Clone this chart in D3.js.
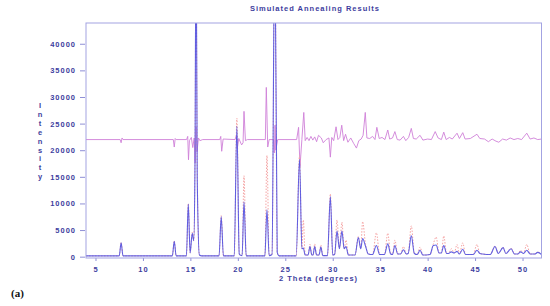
<!DOCTYPE html>
<meta charset="utf-8">
<head>
  <!-- Carga D3 -->
  <script src="https://cdn.jsdelivr.net/npm/d3@7/dist/d3.min.js"></script>
  <style>
    body { margin: 0; background: #fff; }

    /* CSS para los ejes */
    .axis text {
      font-family: "Liberation Sans", Arial, sans-serif;
      font-size: 7.5px;
      font-weight: bold;
      letter-spacing: 1px;
      fill: #3d3d9e;
    }
    .axis line { stroke: #8f8fd6; }
    .axis path { display: none; }

    .rotulo {
      font-family: "Liberation Sans", Arial, sans-serif;
      font-size: 7.5px;
      font-weight: bold;
      letter-spacing: 1px;
      fill: #3d3d9e;
    }
  </style>
</head>
<body>
<script type="text/javascript">

// Datos: pares [2 theta, cuentas]

// Perfil calculado (azul)
var calcPts = [
  [4,150],[7.5,150],[7.7,2600],[7.9,150],
  [13.1,150],[13.3,2900],[13.5,150],
  [14.58,150],[14.78,9900],[14.97,700],[15.2,4400],[15.35,3000],[15.48,16000],[15.6,62000],[15.72,15000],[15.95,300],[16.2,150],
  [18.02,150],[18.25,7500],[18.48,150],
  [19.62,150],[19.9,24500],[20.15,500],[20.3,250],[20.45,200],[20.65,10300],[20.88,150],
  [22.85,150],[23.07,8800],[23.3,200],[23.6,400],[23.9,62000],[24.15,800],[24.35,150],
  [26.15,150],[26.5,18300],[26.75,1500],[26.9,1600],[27.1,300],[27.4,300],[27.6,1900],[27.8,300],[27.92,300],[28.1,1900],[28.3,300],
  [28.55,300],[28.75,1800],[28.95,200],[29.45,200],[29.75,11300],[30.0,300],[30.2,400],[30.45,4800],[30.7,1500],[30.97,4800],
  [31.2,1500],[31.4,1900],[31.65,300],[32.35,300],[32.7,3600],[32.95,1500],[33.15,3400],[33.45,2000],[33.75,500],[34.2,400],
  [34.6,2100],[34.95,400],[35.45,400],[35.8,2400],[36.1,500],[36.3,400],[36.55,2100],[36.85,500],[37.15,500],[37.45,1300],
  [37.75,500],[37.95,600],[38.28,3900],[38.6,600],[38.9,400],[39.2,1200],[39.5,300],[40.25,400],[40.6,2100],[40.9,2200],
  [41.2,700],[41.45,700],[41.7,2100],[42.0,600],[42.2,600],[42.5,900],[42.8,700],[43.1,1000],[43.35,500],[43.7,1400],
  [44.0,400],[44.8,400],[45.2,1200],[45.5,600],[45.8,500],[46.6,400],[47.1,1900],[47.45,600],[47.95,1700],[48.25,600],
  [48.8,1500],[49.15,500],[49.5,500],[49.8,900],[50.1,600],[50.45,1200],[50.8,500],[51.3,500],[51.6,800],[52,400]
];

// Perfil observado (rojo punteado)
var obsPts = [
  [4,150],[7.5,150],[7.7,2700],[7.9,150],
  [13.1,150],[13.3,3000],[13.5,150],
  [14.58,150],[14.78,10000],[14.97,700],[15.2,4600],[15.35,3000],[15.48,17000],[15.6,58000],[15.72,16000],[15.95,300],[16.2,150],
  [18.02,150],[18.25,7700],[18.48,150],
  [19.62,150],[19.9,26000],[20.15,500],[20.3,250],[20.45,200],[20.65,15200],[20.88,150],
  [22.85,150],[23.07,19000],[23.3,200],[23.6,400],[23.9,60000],[24.15,800],[24.35,150],
  [26.15,150],[26.5,19000],[26.75,1500],[26.9,6900],[27.1,300],[27.4,300],[27.6,2300],[27.8,300],[27.92,300],[28.1,2400],[28.3,300],
  [28.55,300],[28.75,2200],[28.95,200],[29.45,200],[29.75,11800],[30.0,300],[30.2,400],[30.45,6900],[30.7,1500],[30.97,6500],
  [31.2,1500],[31.4,3100],[31.65,300],[32.35,300],[32.7,3800],[32.95,1500],[33.15,6600],[33.45,2400],[33.75,500],[34.2,400],
  [34.6,4500],[34.95,400],[35.45,400],[35.8,4400],[36.1,500],[36.3,400],[36.55,3100],[36.85,500],[37.15,500],[37.45,1900],
  [37.75,500],[37.95,600],[38.28,5800],[38.6,600],[38.9,400],[39.2,1800],[39.5,300],[40.25,400],[40.6,2400],[40.9,3700],
  [41.2,700],[41.45,700],[41.7,3900],[42.0,600],[42.2,600],[42.5,1500],[42.8,700],[43.1,2300],[43.35,500],[43.7,2600],
  [44.0,400],[44.8,400],[45.2,2300],[45.5,600],[45.8,500],[46.6,400],[47.1,2000],[47.45,600],[47.95,1800],[48.25,600],
  [48.8,1600],[49.15,500],[49.5,500],[49.8,1200],[50.1,600],[50.45,2300],[50.8,500],[51.3,500],[51.6,900],[52,400]
];

// Curva de diferencia (desplazada a ~22000)
var diffPts = [
  [4,22000],[7.6,22000],[7.7,21400],[7.8,22300],[7.9,22000],
  [13.2,22000],[13.3,20600],[13.4,22200],[13.5,22000],
  [14.6,22000],[14.72,22600],[14.8,18200],[14.9,21800],[15.1,22400],[15.25,20500],[15.4,22300],[15.5,17600],[15.6,24400],
  [15.7,19700],[15.85,22300],[16.0,21800],[16.3,22000],
  [18.1,22000],[18.2,22600],[18.3,19800],[18.45,22100],
  [19.7,22000],[19.85,22800],[19.95,20400],[20.1,22200],[20.4,21000],[20.55,21400],[20.65,27300],[20.8,21800],[21,22000],
  [22.9,22000],[23.0,31800],[23.15,20600],[23.3,22000],[23.75,22000],[23.85,19500],[23.92,24700],[24.0,20000],[24.2,22000],
  [26.2,22000],[26.4,24300],[26.55,16900],[26.75,22000],[26.95,27100],[27.1,21800],[27.3,22400],[27.5,21800],[27.7,22600],
  [27.9,21900],[28.1,22500],[28.3,21600],[28.5,22800],[28.8,22300],[29.0,21400],[29.3,22000],[29.6,22300],[29.75,18700],
  [29.9,22400],[30.1,21800],[30.35,24400],[30.55,22000],[30.75,22400],[30.95,24700],[31.15,21800],[31.35,23000],[31.6,21500],
  [31.9,22300],[32.2,21300],[32.5,20400],[32.75,21800],[33.0,22100],[33.2,22800],[33.43,27100],[33.6,22300],[33.9,22200],
  [34.2,22600],[34.45,22000],[34.65,24300],[34.9,22200],[35.2,22400],[35.5,22000],[35.8,23800],[36.0,22100],[36.3,22300],
  [36.55,23500],[36.8,22000],[37.1,21900],[37.45,22600],[37.7,21800],[38.0,22400],[38.28,24100],[38.5,22200],[38.8,22100],
  [39.2,22800],[39.5,21900],[40.0,22100],[40.4,22000],[40.8,23500],[41.1,22300],[41.45,22000],[41.7,23400],[41.95,22000],
  [42.3,22400],[42.6,22100],[43.1,23200],[43.35,22200],[43.7,23300],[43.95,22100],[44.5,22200],[45.2,23000],[45.5,22200],
  [46.0,22100],[46.4,21600],[46.8,22100],[47.2,21700],[47.5,21500],[47.9,22100],[48.3,21900],[48.7,22300],[49.1,22000],
  [49.5,22200],[49.9,22000],[50.45,23200],[50.8,22100],[51.2,22300],[51.6,22000],[52,22100]
];

// Marcas de los ejes
var xTicks = [5, 10, 15, 20, 25, 30, 35, 40, 45, 50];
var yTicks = [0, 5000, 10000, 15000, 20000, 25000, 30000, 35000, 40000];

var titulo = "Simulated Annealing Results";
var xTitulo = "2 Theta (degrees)";
var yTitulo = "Intensity";

//Define margenes

var margin = {top: 23, left: 86},
w = 455.5,
h = 235;

var xScale = d3.scaleLinear().domain([4, 52]).range([0, w]);
var yScale = d3.scaleLinear().domain([-250, 43900]).range([h, 0]);

var svg = d3.select("body")
            .append("svg")
            .attr("width", 550)
            .attr("height", 306);

var g = svg.append("g")
           .attr("transform", "translate(" + margin.left + "," + margin.top + ")");

g.append("clipPath")
  .attr("id", "recorte")
  .append("rect")
  .attr("width", w)
  .attr("height", h);

//Agrega ejes

var yAxis = d3.axisLeft(yScale)
              .tickValues(yTicks)
              .tickSize(5)
              .tickPadding(4)
              .tickFormat(d3.format("d"));

g.append("g")
  .attr("class", "y axis")
  .attr("transform", "translate(-1,0)")
  .call(yAxis);

var xAxis = d3.axisBottom(xScale)
              .tickValues(xTicks)
              .tickSize(3)
              .tickPadding(6);

g.append("g")
  .attr("class", "x axis")
  .attr("transform", "translate(0," + h + ")")
  .call(xAxis);

//Lineas

var linea = d3.line()
  .x(function(d) { return xScale(d[0]); })
  .y(function(d) { return yScale(d[1]); });

var lineaSuave = d3.line()
  .curve(d3.curveMonotoneX)
  .x(function(d) { return xScale(d[0]); })
  .y(function(d) { return yScale(d[1]); });

var trazos = g.append("g").attr("clip-path", "url(#recorte)");

trazos.append("path")
  .datum(diffPts)
  .attr("d", linea)
  .attr("fill", "none")
  .attr("stroke", "#cf80d8")
  .attr("stroke-width", 0.9);

trazos.append("path")
  .datum(obsPts)
  .attr("d", lineaSuave)
  .attr("fill", "none")
  .attr("stroke", "#f4a3a3")
  .attr("stroke-width", 1)
  .attr("stroke-dasharray", "1.5,1.5");

trazos.append("path")
  .datum(calcPts)
  .attr("d", lineaSuave)
  .attr("fill", "none")
  .attr("stroke", "#5252e0")
  .attr("stroke-width", 1.1)
  .attr("stroke-opacity", 0.9);

//Marco del grafico

g.append("rect")
  .attr("width", w)
  .attr("height", h)
  .attr("fill", "none")
  .attr("stroke", "#a3a3e2")
  .attr("stroke-width", 1);

//Titulos

svg.append("text")
  .attr("class", "rotulo")
  .attr("x", 315)
  .attr("y", 10.5)
  .attr("text-anchor", "middle")
  .text(titulo);

svg.append("text")
  .attr("class", "rotulo")
  .attr("x", 279)
  .attr("y", 280.5)
  .text(xTitulo);

svg.append("g")
  .selectAll("text")
  .data(yTitulo.split(""))
  .enter()
  .append("text")
  .attr("class", "rotulo")
  .attr("x", 40)
  .attr("y", function(d, i) { return 108 + i * 8.9; })
  .attr("text-anchor", "middle")
  .style("letter-spacing", "0px")
  .text(function(d) { return d; });

svg.append("text")
  .attr("x", 11)
  .attr("y", 297)
  .style("font-family", "'Liberation Serif', 'Times New Roman', serif")
  .style("font-size", "11px")
  .style("font-weight", "bold")
  .style("fill", "#111")
  .text("(a)");

</script>
</body>
